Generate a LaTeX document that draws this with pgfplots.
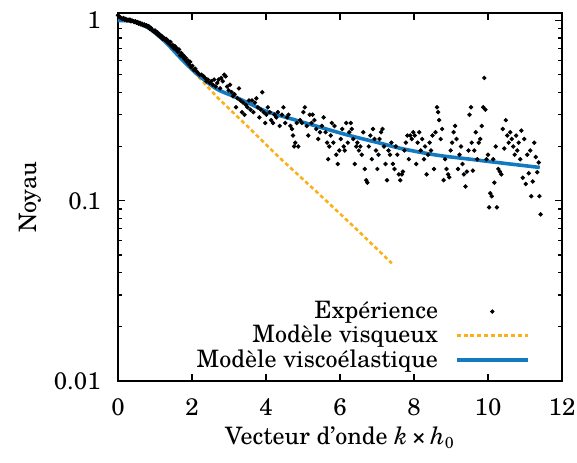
\documentclass[border=0pt]{standalone}
\usepackage{fontspec}
\setmainfont{TeX Gyre Schola}
\usepackage{pgfplots}
\pgfplotsset{compat=1.18}
\definecolor{vblue}{RGB}{20,122,192}
\definecolor{vorange}{RGB}{252,176,24}
\pgfplotsset{
  legline/.style={legend image code/.code={\draw[##1] (0pt,0pt) -- (35.5pt,0pt);}},
  legdot/.style={legend image code/.code={\path (0pt,0pt) (35.5pt,0pt); \draw[##1] plot coordinates {(17.75pt,0pt)};}},
}
\begin{document}
\fontsize{12}{14}\selectfont
\begin{tikzpicture}
\useasboundingbox (-59pt,-40.5pt) rectangle (229.5pt,190.5pt);
\begin{axis}[
  at={(0,0)}, anchor=south west,
  scale only axis, width=222pt, height=184pt,
  ymode=log, xmin=0, xmax=12, ymin=0.01, ymax=1.1,
  xtick={0,2,4,6,8,10,12},
  ytick={0.01,0.1,1}, yticklabels={0.01,0.1,1},
  /pgf/number format/assume math mode=true,
  tick align=inside, major tick length=3.5pt, minor tick length=2pt,
  tick style={black, line width=0.6pt},
  axis line style={line width=0.8pt},
  tick label style={font=\fontsize{12}{14}\selectfont},
  xticklabel style={yshift=-4.5pt},
  yticklabel style={xshift=-4.5pt},
  every axis y label/.style={at={(rel axis cs:0,0.5)}, xshift=-44pt, rotate=90, anchor=center, font=\fontsize{12}{14}\selectfont},
  every axis x label/.style={at={(rel axis cs:0.5,0)}, yshift=-28.5pt, anchor=center, font=\fontsize{12}{14}\selectfont},
  ylabel={Noyau},
  xlabel={Vecteur d’onde \textit{k}\,×\,\textit{h}\textsubscript{0}},
  legend plot pos=right,
  legend style={at={(rel axis cs:1,0)}, anchor=south east, xshift=-16pt, yshift=3pt,
    draw=none, fill=none, inner sep=0pt, row sep=-2.5pt,
    cells={anchor=east}, font=\fontsize{12}{14}\selectfont,
    /tikz/every odd column/.append style={column sep=6.5pt}},
]
\addplot[only marks, mark=*, mark size=0.9pt, black, legdot]
coordinates {
(0.00,1.07)(0.03,1.05)(0.06,1.04)(0.09,1.03)(0.12,1.02)(0.15,1.03)(0.18,1.01)(0.21,1.02)
(0.24,1.00)(0.27,1.01)(0.30,1.00)(0.32,1.01)(0.35,0.99)(0.38,1.00)(0.41,0.99)(0.44,0.98)
(0.47,0.99)(0.50,0.97)(0.53,0.98)(0.56,0.96)(0.59,0.97)(0.62,0.95)(0.65,0.96)(0.68,0.94)
(0.71,0.95)(0.74,0.93)(0.77,0.94)(0.80,0.92)(0.83,0.93)(0.86,0.90)(0.89,0.91)(0.92,0.89)
(0.94,0.88)(0.97,0.87)(1.00,0.88)(1.03,0.85)(1.06,0.86)(1.09,0.83)(1.12,0.84)(1.15,0.81)
(1.18,0.82)(1.21,0.79)(1.24,0.80)(1.27,0.78)(1.30,0.79)(1.33,0.76)(1.36,0.77)(1.39,0.74)
(1.42,0.76)(1.45,0.72)(1.48,0.73)(1.51,0.70)(1.54,0.72)(1.56,0.69)(1.59,0.70)(1.62,0.67)
(1.65,0.69)(1.68,0.64)(1.71,0.66)(1.74,0.63)(1.77,0.64)(1.80,0.61)(1.83,0.62)(1.86,0.59)
(1.89,0.60)(1.92,0.57)(1.95,0.59)(1.98,0.55)(2.01,0.56)(2.05,0.53)(2.09,0.54)(2.13,0.52)
(2.16,0.51)(2.21,0.50)(2.26,0.50)(2.31,0.49)(2.35,0.48)(2.39,0.46)(2.43,0.47)(2.48,0.45)
(2.52,0.46)(2.56,0.44)(2.60,0.47)(2.64,0.43)(2.68,0.45)(2.72,0.47)(2.76,0.42)(2.79,0.48)
(2.83,0.46)(2.87,0.50)(2.91,0.49)(2.95,0.43)(2.99,0.41)(3.03,0.44)(3.07,0.40)(3.11,0.38)
(3.15,0.39)(3.19,0.33)(3.23,0.37)(3.27,0.42)(3.31,0.36)(3.35,0.31)(3.38,0.35)(3.42,0.30)
(3.46,0.34)(3.50,0.33)(3.54,0.36)(3.58,0.32)(3.62,0.36)(3.66,0.31)(3.70,0.35)(3.74,0.37)
(3.78,0.33)(3.82,0.29)(3.86,0.32)(3.90,0.40)(3.94,0.31)(3.98,0.27)(4.01,0.30)(4.05,0.33)
(4.10,0.31)(4.14,0.28)(4.19,0.27)(4.23,0.30)(4.28,0.29)(4.32,0.31)(4.37,0.26)(4.43,0.30)
(4.47,0.33)(4.52,0.27)(4.57,0.29)(4.61,0.30)(4.66,0.26)(4.70,0.25)(4.73,0.23)(4.76,0.20)
(4.79,0.21)(4.83,0.27)(4.87,0.20)(4.92,0.28)(4.97,0.27)(5.01,0.31)(5.05,0.33)(5.10,0.26)
(5.14,0.23)(5.18,0.30)(5.23,0.27)(5.26,0.30)(5.31,0.28)(5.36,0.25)(5.41,0.22)(5.46,0.24)
(5.51,0.26)(5.56,0.29)(5.61,0.24)(5.65,0.21)(5.68,0.17)(5.71,0.20)(5.75,0.23)(5.78,0.27)
(5.82,0.21)(5.85,0.26)(5.90,0.18)(5.94,0.16)(5.98,0.19)(6.02,0.22)(6.06,0.25)(6.10,0.20)
(6.13,0.19)(6.17,0.27)(6.21,0.21)(6.25,0.24)(6.29,0.27)(6.32,0.25)(6.36,0.22)(6.40,0.16)
(6.44,0.20)(6.47,0.21)(6.51,0.19)(6.55,0.20)(6.59,0.18)(6.63,0.24)(6.67,0.15)(6.71,0.13)
(6.74,0.126)(6.78,0.20)(6.82,0.23)(6.86,0.17)(6.89,0.25)(6.93,0.22)(6.97,0.19)(7.01,0.15)
(7.04,0.18)(7.07,0.22)(7.11,0.24)(7.15,0.25)(7.19,0.20)(7.23,0.16)(7.27,0.13)(7.31,0.19)
(7.35,0.18)(7.39,0.21)(7.43,0.16)(7.47,0.15)(7.51,0.20)(7.55,0.18)(7.59,0.14)(7.63,0.13)
(7.67,0.14)(7.70,0.145)(7.74,0.19)(7.78,0.21)(7.82,0.23)(7.86,0.17)(7.90,0.23)(7.94,0.22)
(7.98,0.24)(8.02,0.23)(8.06,0.16)(8.10,0.21)(8.14,0.24)(8.18,0.19)(8.22,0.22)(8.27,0.17)
(8.30,0.20)(8.34,0.14)(8.38,0.18)(8.42,0.21)(8.46,0.19)(8.50,0.23)(8.54,0.15)(8.58,0.24)
(8.62,0.33)(8.65,0.31)(8.68,0.28)(8.72,0.22)(8.76,0.25)(8.80,0.13)(8.84,0.17)(8.88,0.15)
(8.92,0.14)(8.95,0.135)(8.99,0.19)(9.03,0.21)(9.07,0.24)(9.11,0.26)(9.15,0.22)(9.19,0.15)
(9.23,0.18)(9.27,0.20)(9.31,0.16)(9.35,0.14)(9.39,0.12)(9.43,0.145)(9.47,0.19)(9.50,0.30)
(9.54,0.33)(9.56,0.21)(9.59,0.147)(9.63,0.19)(9.67,0.24)(9.71,0.17)(9.75,0.21)(9.79,0.22)
(9.83,0.26)(9.87,0.33)(9.90,0.48)(9.93,0.32)(9.96,0.17)(10.00,0.18)(10.03,0.092)(10.06,0.11)
(10.10,0.106)(10.14,0.17)(10.17,0.126)(10.21,0.20)(10.24,0.092)(10.28,0.15)(10.32,0.145)(10.36,0.14)
(10.40,0.25)(10.44,0.195)(10.48,0.28)(10.52,0.23)(10.56,0.21)(10.60,0.24)(10.64,0.22)(10.68,0.20)
(10.72,0.18)(10.76,0.23)(10.79,0.19)(10.83,0.21)(10.87,0.17)(10.90,0.245)(10.94,0.134)(10.98,0.22)
(11.02,0.124)(11.06,0.18)(11.10,0.142)(11.14,0.19)(11.17,0.106)(11.21,0.128)(11.25,0.21)(11.29,0.175)
(11.33,0.144)(11.37,0.163)(11.39,0.106)(11.42,0.084)
};
\addlegendentry{Expérience}
\addplot[vorange, line width=1.3pt, dash pattern=on 2pt off 1.4pt, legline]
coordinates {
(0,1.0)(0.46,0.987)(0.81,0.914)(1.27,0.764)(1.73,0.607)(2.16,0.49)(2.71,0.37)
(3.44,0.266)(4.33,0.176)(5.41,0.110)(6.40,0.071)(7.40,0.045)
};
\addlegendentry{Modèle visqueux}
\addplot[vblue, line width=1.8pt, smooth, legline]
coordinates {
(0,1.0)(0.46,0.987)(0.81,0.914)(1.27,0.764)(1.73,0.607)(2.16,0.5)(2.62,0.423)(2.89,0.397)
(3.16,0.377)(3.62,0.341)(4.05,0.311)(4.78,0.281)(5.26,0.263)(6.19,0.232)(7.07,0.209)
(7.70,0.194)(8.62,0.179)(9.52,0.170)(10.14,0.164)(11.4,0.153)
};
\addlegendentry{Modèle viscoélastique}
\end{axis}
\end{tikzpicture}
\end{document}
